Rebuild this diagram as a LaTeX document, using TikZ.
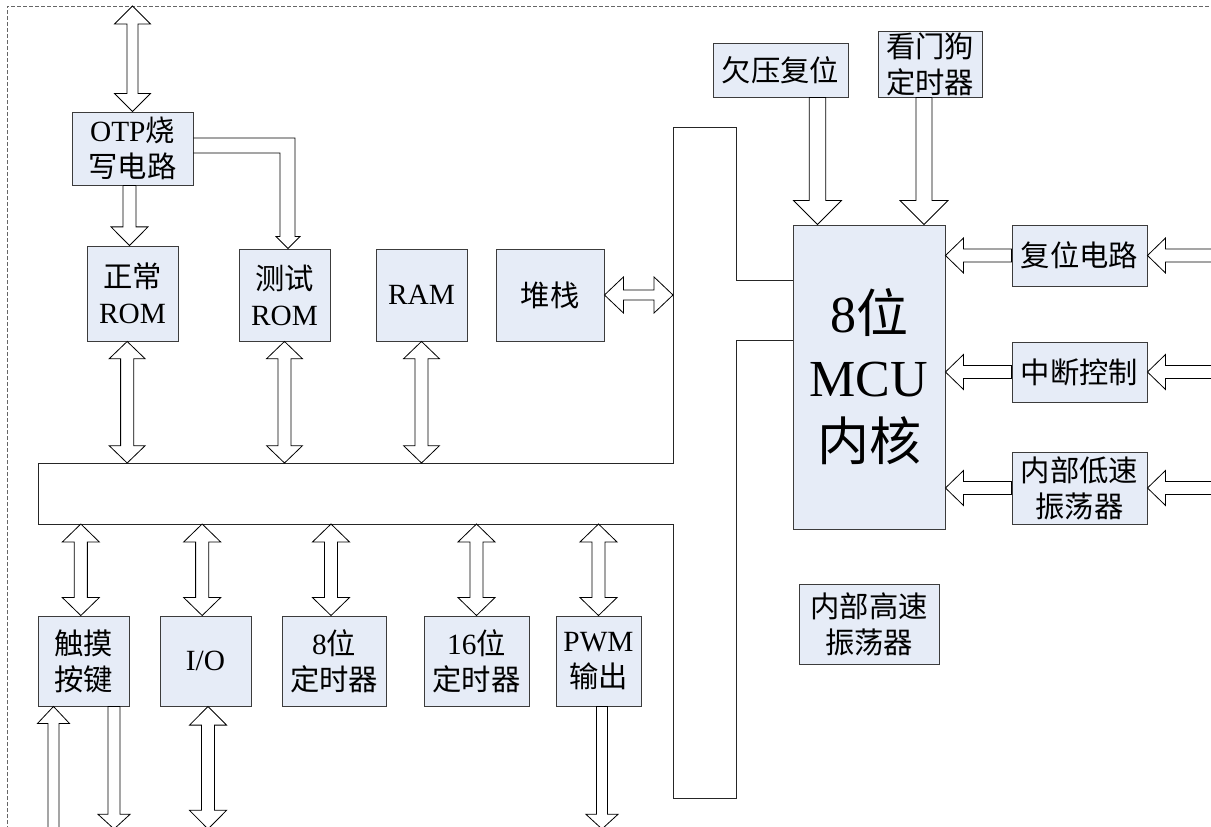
\documentclass[tikz,border=0pt]{standalone}
\usepackage{fontspec}
\setmainfont{Liberation Serif}
\newfontfamily\cjk{Noto Sans CJK SC}
\usetikzlibrary{calc}
\definecolor{boxfill}{RGB}{230,236,247}
\definecolor{boxline}{RGB}{60,60,60}
\tikzset{
 box/.style={draw=boxline, fill=boxfill, line width=0.7pt, inner sep=0pt, align=center, font=\fontsize{22}{27}\selectfont},
 bw/.style={minimum width={#1*0.75pt}},
 bh/.style={minimum height={#1*0.75pt}},
 blk/.style={draw=black, fill=white, line width=0.6pt, line join=miter},
 bentblk/.style={draw=black, line width=0.6pt, line join=miter},
 bus/.style={draw=black!85, line width=0.7pt},
 frame/.style={draw=black!60, dash pattern=on 3pt off 1.5pt, line width=0.6pt}
}
% single vertical arrow: tail #1, tip #2 (y), half shaft #3, half head #4, head length #5
\newcommand\arrV[5]{\draw[blk] let \p1=(#1), \p2=(#2), \n1={sign(\y2-\y1)} in
 ({\x1-#3},\y1) -- ({\x1-#3},{\y2-(\n1)*#5}) -- ({\x1-#4},{\y2-(\n1)*#5}) -- (\x1,\y2)
 -- ({\x1+#4},{\y2-(\n1)*#5}) -- ({\x1+#3},{\y2-(\n1)*#5}) -- ({\x1+#3},\y1) -- cycle;}
% double vertical arrow
\newcommand\arrVV[5]{\draw[blk] let \p1=(#1), \p2=(#2), \n1={sign(\y2-\y1)} in
 (\x1,\y1) -- ({\x1+#4},{\y1+(\n1)*#5}) -- ({\x1+#3},{\y1+(\n1)*#5}) -- ({\x1+#3},{\y2-(\n1)*#5})
 -- ({\x1+#4},{\y2-(\n1)*#5}) -- (\x1,\y2) -- ({\x1-#4},{\y2-(\n1)*#5}) -- ({\x1-#3},{\y2-(\n1)*#5})
 -- ({\x1-#3},{\y1+(\n1)*#5}) -- ({\x1-#4},{\y1+(\n1)*#5}) -- cycle;}
% single horizontal arrow
\newcommand\arrH[5]{\draw[blk] let \p1=(#1), \p2=(#2), \n1={sign(\x2-\x1)} in
 (\x1,{\y1-#3}) -- ({\x2-(\n1)*#5},{\y1-#3}) -- ({\x2-(\n1)*#5},{\y1-#4}) -- (\x2,\y1)
 -- ({\x2-(\n1)*#5},{\y1+#4}) -- ({\x2-(\n1)*#5},{\y1+#3}) -- (\x1,{\y1+#3}) -- cycle;}
% double horizontal arrow
\newcommand\arrHH[5]{\draw[blk] let \p1=(#1), \p2=(#2), \n1={sign(\x2-\x1)} in
 (\x1,\y1) -- ({\x1+(\n1)*#5},{\y1+#4}) -- ({\x1+(\n1)*#5},{\y1+#3}) -- ({\x2-(\n1)*#5},{\y1+#3})
 -- ({\x2-(\n1)*#5},{\y1+#4}) -- (\x2,\y1) -- ({\x2-(\n1)*#5},{\y1-#4}) -- ({\x2-(\n1)*#5},{\y1-#3})
 -- ({\x1+(\n1)*#5},{\y1-#3}) -- ({\x1+(\n1)*#5},{\y1-#4}) -- cycle;}

\begin{document}
\begin{tikzpicture}[x=0.75pt,y=-0.75pt]
\useasboundingbox (0,0) rectangle (1211,827);

% frame
\coordinate (ftop) at (7,6);
\draw[frame] (7,830) -- (ftop) -- (1215,6);

% boxes
\node[box, bw=121, bh=73] (otp) at (132.5,148.5) {OTP{\cjk 烧}\\{\cjk 写电路}};
\node[box, bw=91, bh=95] (rom1) at (132.5,293.5) {{\cjk 正常}\\ROM};
\node[box, bw=91, bh=92] (rom2) at (284.5,295) {{\cjk 测试}\\ROM};
\node[box, bw=91, bh=92] (ram) at (421.5,295) {RAM};
\node[box, bw=108, bh=92] (stack) at (550,295) {{\cjk 堆栈}};
\node[box, bw=135, bh=54] (uv) at (780.5,70) {{\cjk 欠压复位}};
\node[box, bw=104, bh=66] (wdt) at (930,64) {{\cjk 看门狗}\\{\cjk 定时器}};
\node[box, bw=152, bh=304, font=\fontsize{39}{48}\selectfont] (mcu) at (869,377) {8{\cjk 位}\\MCU\\{\cjk 内核}};
\node[box, bw=135, bh=61] (rst) at (1079.5,255.5) {{\cjk 复位电路}};
\node[box, bw=135, bh=60] (irq) at (1079.5,372) {{\cjk 中断控制}};
\node[box, bw=135, bh=72] (lso) at (1079.5,488) {{\cjk 内部低速}\\{\cjk 振荡器}};
\node[box, bw=140, bh=80] (hso) at (869,624) {{\cjk 内部高速}\\{\cjk 振荡器}};
\node[box, bw=91, bh=90] (touch) at (83.5,661) {{\cjk 触摸}\\{\cjk 按键}};
\node[box, bw=91, bh=90] (io) at (205.5,661) {I/O};
\node[box, bw=104, bh=90] (t8) at (334,661) {8{\cjk 位}\\{\cjk 定时器}};
\node[box, bw=105, bh=90] (t16) at (476.5,661) {16{\cjk 位}\\{\cjk 定时器}};
\node[box, bw=85, bh=90] (pwm) at (598.5,661) {PWM\\{\cjk 输出}};

% bus
\coordinate (b1) at (38,463);
\coordinate (b2) at (673,463);
\coordinate (b3) at (673,127);
\coordinate (b4) at (736,127);
\coordinate (b5) at (736,280);
\coordinate (b6) at (736,340);
\coordinate (b7) at (736,798);
\coordinate (b8) at (673,798);
\coordinate (b9) at (673,524);
\coordinate (b10) at (38,524);
\draw[bus] (mcu.west |- b6) -- (b6) -- (b7) -- (b8) -- (b9) -- (b10) -- (b1) -- (b2) -- (b3) -- (b4) -- (b5) -- (mcu.west |- b5);

% external end points
\coordinate (ext1) at (132.5,6);
\coordinate (rin1) at (1215,255.5);
\coordinate (rin2) at (1215,372);
\coordinate (rin3) at (1215,488);
\coordinate (tin) at (53.5,832);
\coordinate (tout) at (114,829);
\coordinate (iob) at (208,829);
\coordinate (pwmb) at (602,829);

% OTP arrows
\arrVV{otp.north}{ext1}{4.1pt}{13.5pt}{13.5pt}
\arrV{[xshift=-2.25pt]otp.south}{rom1.north}{4.9pt}{13.9pt}{14pt}
\draw[bentblk] let \p1=(otp.east), \p2=([xshift=2.6pt]rom2.north) in
 (\x1,{\y1+7.9pt}) -- ({\x2+5.25pt},{\y1+7.9pt}) -- ({\x2+5.25pt},{\y2+9pt}) -- ({\x2+9pt},{\y2+9pt})
 -- (\x2,\y2) -- ({\x2-9pt},{\y2+9pt}) -- ({\x2-6pt},{\y2+9pt}) -- ({\x2-6pt},{\y1-3.4pt}) -- (\x1,{\y1-3.4pt});

% memories to bus
\arrVV{[xshift=-4pt]rom1.south}{rom1.south |- b1}{4.9pt}{13.5pt}{13pt}
\arrVV{rom2.south}{rom2.south |- b1}{4.9pt}{13.5pt}{13pt}
\arrVV{ram.south}{ram.south |- b1}{4.9pt}{13.5pt}{13pt}
\arrHH{stack.east}{stack.east -| b2}{3.75pt}{13.5pt}{14.2pt}

% into MCU from top
\arrV{[xshift=27.75pt]uv.south}{mcu.north}{6.2pt}{18pt}{18pt}
\arrV{[xshift=-4.5pt]wdt.south}{mcu.north}{6pt}{18pt}{18pt}

% right side
\arrH{rst.west}{rst.west -| mcu.east}{4.9pt}{13.1pt}{13.5pt}
\arrH{irq.west}{irq.west -| mcu.east}{4.9pt}{13.1pt}{13.5pt}
\arrH{lso.west}{lso.west -| mcu.east}{4.9pt}{13.1pt}{13.5pt}
\arrH{rin1}{rst.east}{4.9pt}{13.1pt}{13.5pt}
\arrH{rin2}{irq.east}{4.9pt}{13.1pt}{13.5pt}
\arrH{rin3}{lso.east}{4.9pt}{13.1pt}{13.5pt}

% bus to peripherals
\arrVV{[xshift=-2pt]touch.north}{touch.north |- b10}{4.9pt}{13.9pt}{13.5pt}
\arrVV{[xshift=-2.5pt]io.north}{io.north |- b10}{4.9pt}{13.9pt}{13.5pt}
\arrVV{[xshift=-2.25pt]t8.north}{t8.north |- b10}{4.9pt}{13.9pt}{13.5pt}
\arrVV{t16.north}{t16.north |- b10}{4.9pt}{13.9pt}{13.5pt}
\arrVV{pwm.north}{pwm.north |- b10}{4.9pt}{13.9pt}{13.5pt}

% bottom external
\arrV{tin}{touch.south}{4.1pt}{12pt}{12.75pt}
\arrV{[xshift=22.9pt]touch.south}{tout}{4.5pt}{12pt}{11pt}
\arrVV{[xshift=1.9pt]io.south}{iob}{4.9pt}{13.9pt}{14pt}
\arrV{[xshift=2.6pt]pwm.south}{pwmb}{4.1pt}{12pt}{11pt}
\end{tikzpicture}
\end{document}
